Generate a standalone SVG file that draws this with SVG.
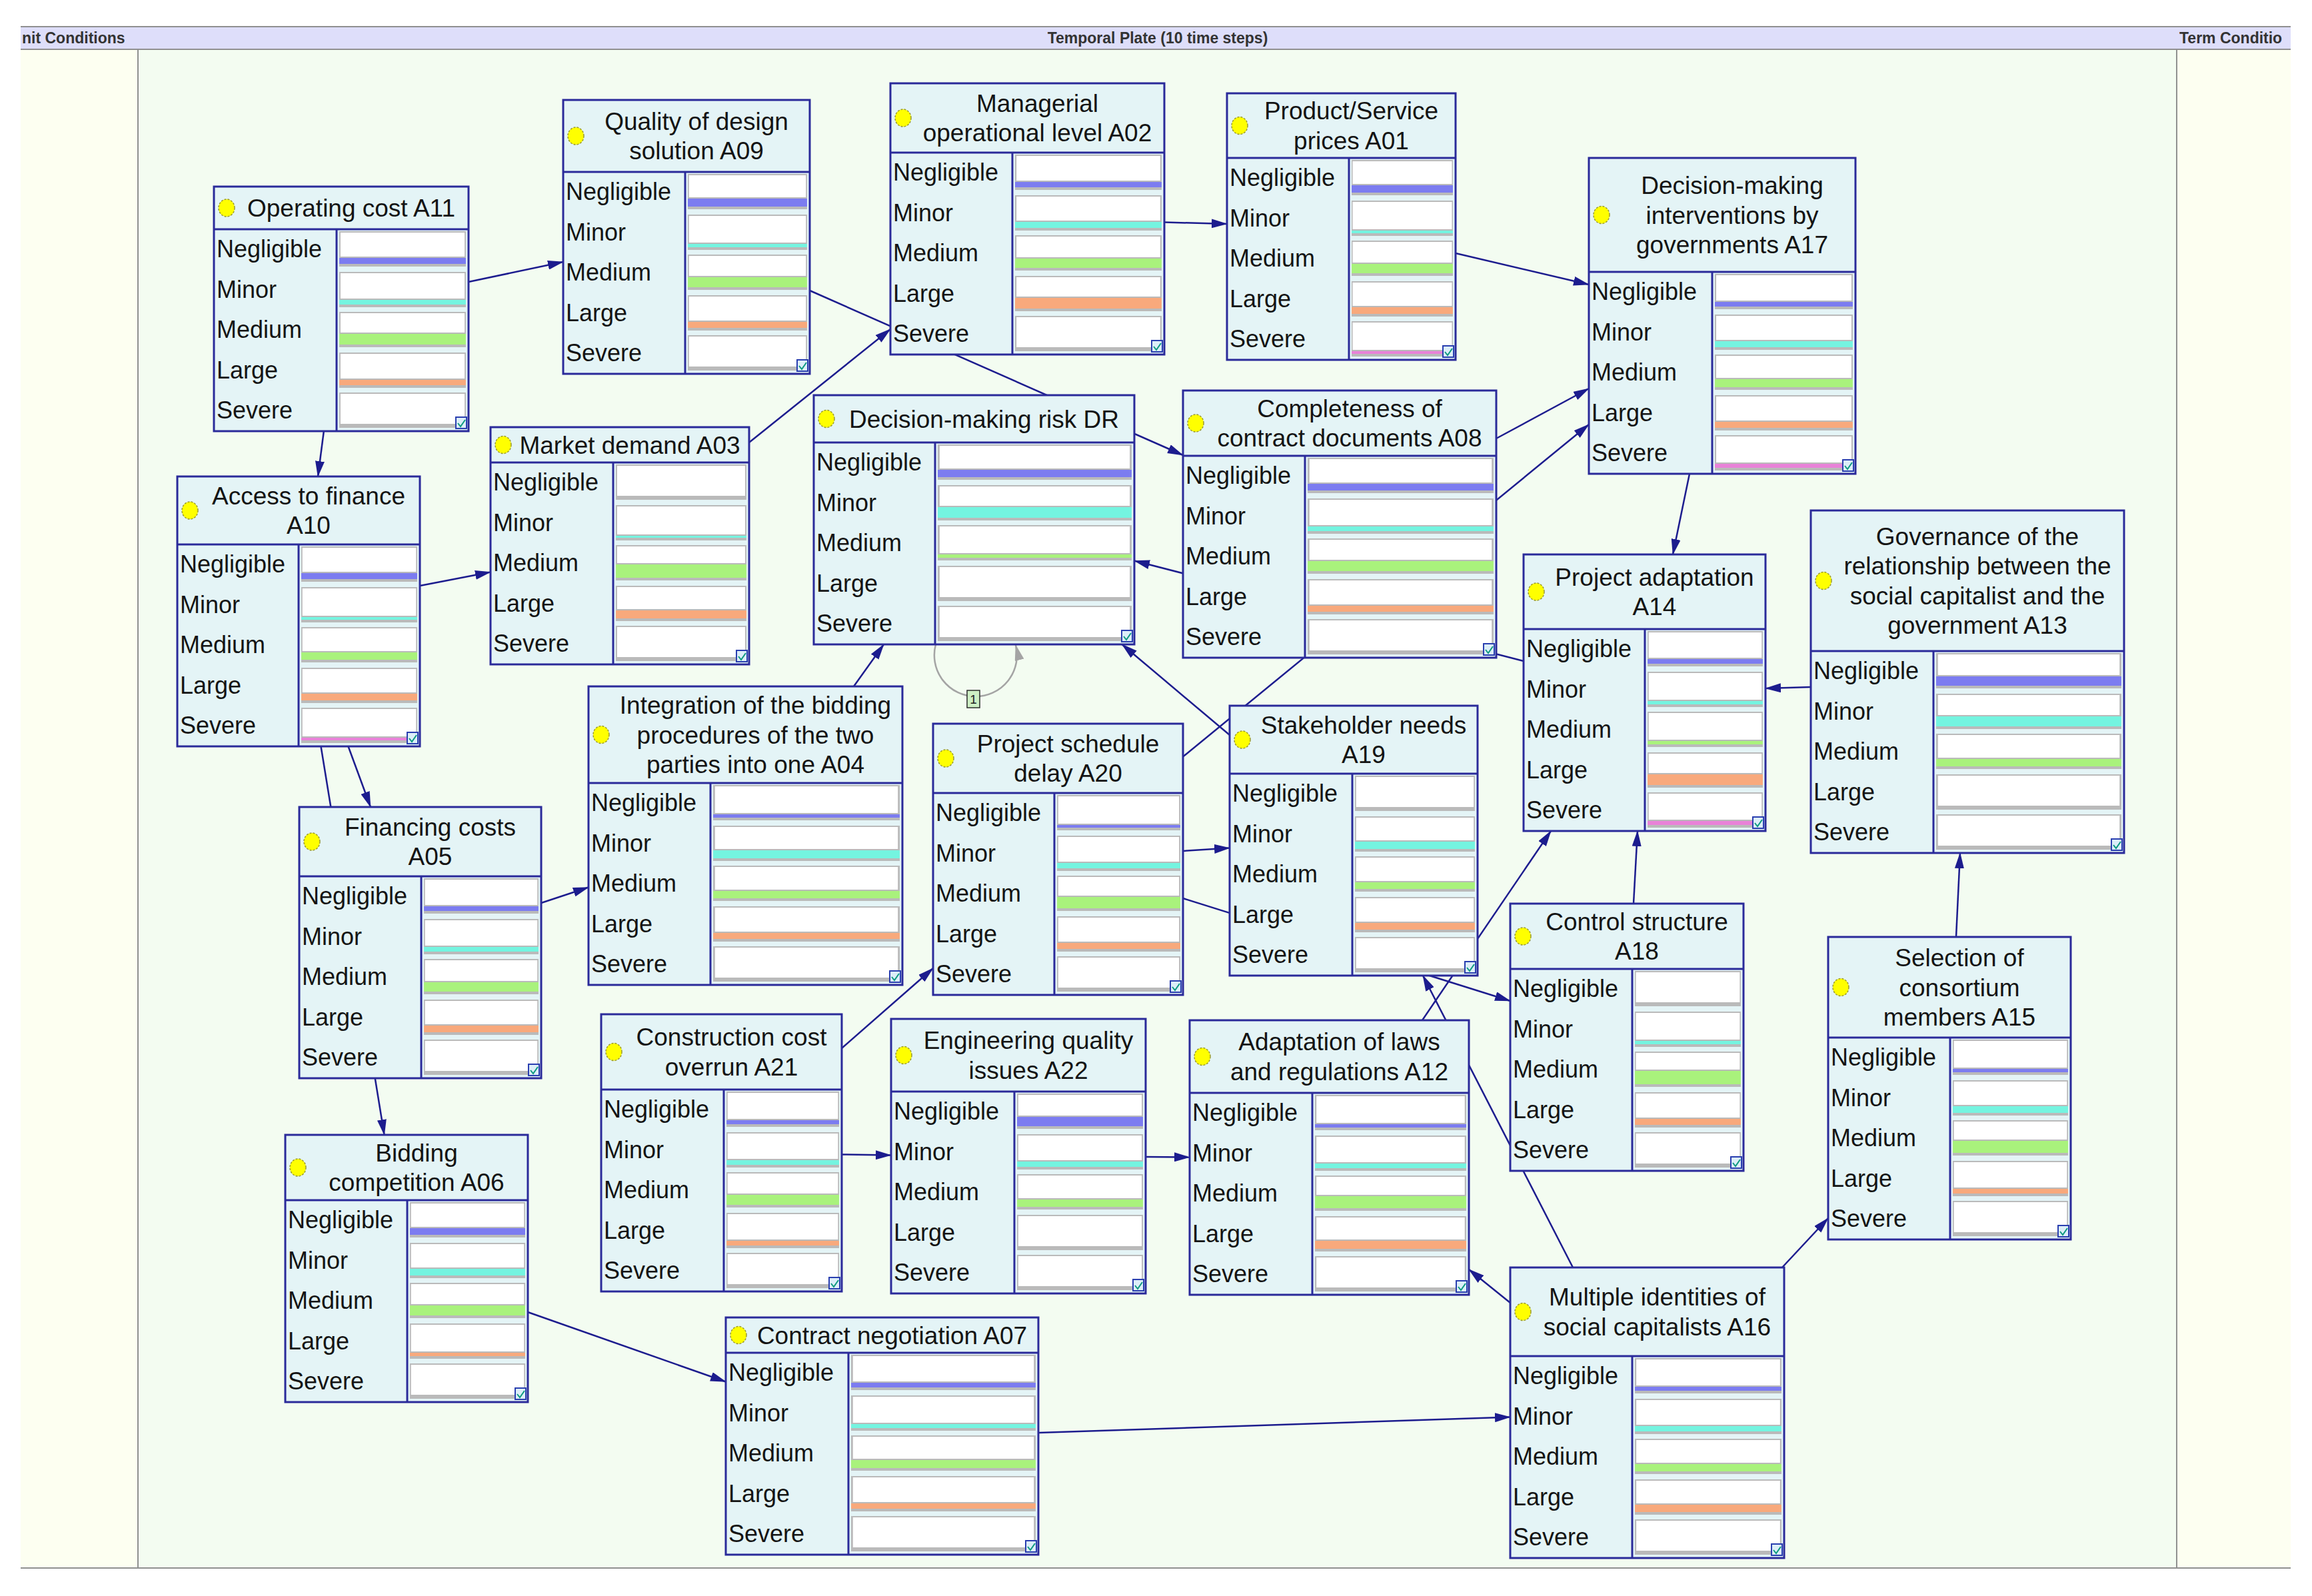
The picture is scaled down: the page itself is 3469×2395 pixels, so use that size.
<svg xmlns="http://www.w3.org/2000/svg" width="3469" height="2395" viewBox="0 0 3469 2395">
<style>
.box{fill:#e4f4f6;stroke:#2a2a9a;stroke-width:3}
.div{fill:none;stroke:#2a2a9a;stroke-width:3}
.dot{fill:#ffff00;stroke:#9a9a30;stroke-width:1.5;stroke-dasharray:3 2}
.t{font-family:"Liberation Sans",Arial,sans-serif;font-size:37px;fill:#141414;text-anchor:middle}
.lab text{font-family:"Liberation Sans",Arial,sans-serif;font-size:36px;fill:#141414}
.hd{font-family:"Liberation Sans",Arial,sans-serif;font-size:23px;font-weight:bold;fill:#333}
.fr,.g{fill:#bababa}
.wh{fill:#ffffff}
.c1{fill:#7c7cf0}.c2{fill:#74f4e0}.c3{fill:#a9f27c}.c4{fill:#f8a97c}.c5{fill:#e882d8}
.ic{fill:#dceef8;stroke:#2a3fb0;stroke-width:2}
.ck{fill:none;stroke:#0c9a80;stroke-width:2}
.e{fill:none;stroke:#1c1c8e;stroke-width:2.5;marker-end:url(#ah)}
.loop{fill:none;stroke:#a4a4a4;stroke-width:2.5;marker-end:url(#ahg)}
</style>
<defs>
<marker id="ah" viewBox="0 0 24 14" refX="23" refY="7" markerWidth="24" markerHeight="14" markerUnits="userSpaceOnUse" orient="auto"><path d="M0,0L24,7L0,14z" fill="#1c1c8e"/></marker>
<marker id="ahg" viewBox="0 0 24 14" refX="23" refY="7" markerWidth="24" markerHeight="14" markerUnits="userSpaceOnUse" orient="auto"><path d="M0,0L24,7L0,14z" fill="#a4a4a4"/></marker>
<g id="cells">
<path class="fr" d="M0,3h100v53H0zM0,64h100v53H0zM0,124h100v53H0zM0,185h100v53H0zM0,245h100v53H0z"/>
<path class="wh" d="M1,5h98v45H1zM1,66h98v45H1zM1,126h98v45H1zM1,187h98v45H1zM1,247h98v45H1z"/>
</g>
</defs>
<rect width="3469" height="2395" fill="#ffffff"/>
<g id="plate">
<rect x="31" y="74" width="176" height="2279" fill="#fdfff1"/>
<rect x="207" y="74" width="3059" height="2279" fill="#f3fcf1"/>
<rect x="3266" y="74" width="171" height="2279" fill="#fdfff1"/>
<rect x="31" y="40" width="3406" height="34" fill="#dedefa"/>
<path d="M31,40H3437M31,74H3437M207,74V2353M3266,74V2353M31,2353H3437" stroke="#909090" stroke-width="2" fill="none"/>
<text class="hd" x="33" y="65">nit Conditions</text>
<text class="hd" x="1737" y="65" text-anchor="middle">Temporal Plate (10 time steps)</text>
<text class="hd" x="3270" y="65">Term Conditio</text>
</g>
<g id="connectors">
<path class="e" d="M703,423L845,393"/>
<path class="e" d="M486,646L477,715"/>
<path class="e" d="M1215,436L1775,683"/>
<path class="e" d="M1124,664L1336,494"/>
<path class="e" d="M1747,333.5L1841,336"/>
<path class="e" d="M2184,380L2384,427"/>
<path class="e" d="M2245,658L2384,583"/>
<path class="e" d="M1775,1135.5L2384,637"/>
<path class="e" d="M2535,711L2510,832"/>
<path class="e" d="M2286,992L1702,841.5"/>
<path class="e" d="M1845,1103L1683.5,967"/>
<path class="e" d="M1281,1030L1326,967"/>
<path class="e" d="M630,879L736,858.5"/>
<path class="e" d="M522.5,1120L556,1211"/>
<path class="e" d="M481.5,1120L576.6,1703"/>
<path class="e" d="M812,1355L883,1331.5"/>
<path class="e" d="M792,1969L1089,2073.5"/>
<path class="e" d="M1558,2150L2266,2126.5"/>
<path class="e" d="M1263,1573L1400,1453"/>
<path class="e" d="M1263,1732.5L1337,1733.5"/>
<path class="e" d="M1719,1736L1785,1736.5"/>
<path class="e" d="M1775,1277L1845,1272.5"/>
<path class="e" d="M1775,1348L2266,1502"/>
<path class="e" d="M2134,1531L2327,1247"/>
<path class="e" d="M2360,1902L2135,1464"/>
<path class="e" d="M2451,1356L2457,1247"/>
<path class="e" d="M2717,1031L2649,1033"/>
<path class="e" d="M2935,1406L2941,1280"/>
<path class="e" d="M2674,1902L2743,1828"/>
<path class="e" d="M2266,1955L2204,1905"/>
<path class="loop" d="M1404,967A62,62 0 1 0 1524,968"/>
<rect x="1451" y="1036" width="19" height="26" fill="#cdeec4" stroke="#2a2a2a" stroke-width="1.5"/>
<text x="1460.5" y="1056" font-family="Liberation Sans, Arial, sans-serif" font-size="19" fill="#222" text-anchor="middle">1</text>
</g>
<g id="nodes">
<g id="A11">
<rect class="box" x="321" y="280" width="382" height="367"/>
<path class="div" d="M321,344H703M505,344V647"/>
<ellipse class="dot" cx="340" cy="312" rx="12" ry="13"/>
<text class="t" x="527" y="325">Operating cost A11</text>
<g class="lab" transform="translate(325,344)"><text y="42">Negligible</text><text y="103">Minor</text><text y="163">Medium</text><text y="224">Large</text><text y="284">Severe</text></g>
<g transform="translate(509,344) scale(1.9,1)"><use href="#cells"/>
<rect class="g" y="41" width="100" height="11"/><rect class="c1" y="43" width="100" height="9"/>
<rect class="g" y="104" width="100" height="9"/><rect class="c2" y="106" width="100" height="7"/>
<rect class="g" y="155" width="100" height="18"/><rect class="c3" y="157" width="100" height="16"/>
<rect class="g" y="224" width="100" height="10"/><rect class="c4" y="226" width="100" height="8"/>
</g>
<g transform="translate(684,626)"><rect class="ic" width="16" height="17"/><path class="ck" d="M3,9l4,5l7,-10"/></g>
</g>
<g id="A09">
<rect class="box" x="845" y="150" width="370" height="411"/>
<path class="div" d="M845,258H1215M1028,258V561"/>
<ellipse class="dot" cx="864" cy="204" rx="12" ry="13"/>
<text class="t"><tspan x="1045" y="195">Quality of design</tspan><tspan x="1045" y="239">solution A09</tspan></text>
<g class="lab" transform="translate(849,258)"><text y="42">Negligible</text><text y="103">Minor</text><text y="163">Medium</text><text y="224">Large</text><text y="284">Severe</text></g>
<g transform="translate(1032,258) scale(1.79,1)"><use href="#cells"/>
<rect class="g" y="38" width="100" height="14"/><rect class="c1" y="40" width="100" height="12"/>
<rect class="g" y="106" width="100" height="7"/><rect class="c2" y="108" width="100" height="5"/>
<rect class="g" y="156" width="100" height="17"/><rect class="c3" y="158" width="100" height="15"/>
<rect class="g" y="223" width="100" height="11"/><rect class="c4" y="225" width="100" height="9"/>
</g>
<g transform="translate(1196,540)"><rect class="ic" width="16" height="17"/><path class="ck" d="M3,9l4,5l7,-10"/></g>
</g>
<g id="A02">
<rect class="box" x="1336" y="125" width="411" height="407"/>
<path class="div" d="M1336,229H1747M1519,229V532"/>
<ellipse class="dot" cx="1355" cy="177" rx="12" ry="13"/>
<text class="t"><tspan x="1556.5" y="168">Managerial</tspan><tspan x="1556.5" y="212">operational level A02</tspan></text>
<g class="lab" transform="translate(1340,229)"><text y="42">Negligible</text><text y="103">Minor</text><text y="163">Medium</text><text y="224">Large</text><text y="284">Severe</text></g>
<g transform="translate(1523,229) scale(2.2,1)"><use href="#cells"/>
<rect class="g" y="42" width="100" height="10"/><rect class="c1" y="44" width="100" height="8"/>
<rect class="g" y="102" width="100" height="11"/><rect class="c2" y="104" width="100" height="9"/>
<rect class="g" y="157" width="100" height="16"/><rect class="c3" y="159" width="100" height="14"/>
<rect class="g" y="216" width="100" height="18"/><rect class="c4" y="218" width="100" height="16"/>
</g>
<g transform="translate(1728,511)"><rect class="ic" width="16" height="17"/><path class="ck" d="M3,9l4,5l7,-10"/></g>
</g>
<g id="A01">
<rect class="box" x="1841" y="140" width="343" height="400"/>
<path class="div" d="M1841,237H2184M2024,237V540"/>
<ellipse class="dot" cx="1860" cy="188.5" rx="12" ry="13"/>
<text class="t"><tspan x="2027.5" y="179">Product/Service</tspan><tspan x="2027.5" y="224">prices A01</tspan></text>
<g class="lab" transform="translate(1845,237)"><text y="42">Negligible</text><text y="103">Minor</text><text y="163">Medium</text><text y="224">Large</text><text y="284">Severe</text></g>
<g transform="translate(2028,237) scale(1.52,1)"><use href="#cells"/>
<rect class="g" y="39" width="100" height="13"/><rect class="c1" y="41" width="100" height="11"/>
<rect class="g" y="107" width="100" height="6"/><rect class="c2" y="109" width="100" height="4"/>
<rect class="g" y="157" width="100" height="16"/><rect class="c3" y="159" width="100" height="14"/>
<rect class="g" y="222" width="100" height="12"/><rect class="c4" y="224" width="100" height="10"/>
<rect class="g" y="288" width="100" height="6"/><rect class="c5" y="290" width="100" height="4"/>
</g>
<g transform="translate(2165,519)"><rect class="ic" width="16" height="17"/><path class="ck" d="M3,9l4,5l7,-10"/></g>
</g>
<g id="A17">
<rect class="box" x="2384" y="237" width="400" height="474"/>
<path class="div" d="M2384,408H2784M2569,408V711"/>
<ellipse class="dot" cx="2403" cy="322.5" rx="12" ry="13"/>
<text class="t"><tspan x="2599" y="291">Decision-making</tspan><tspan x="2599" y="335.5">interventions by</tspan><tspan x="2599" y="380">governments A17</tspan></text>
<g class="lab" transform="translate(2388,408)"><text y="42">Negligible</text><text y="103">Minor</text><text y="163">Medium</text><text y="224">Large</text><text y="284">Severe</text></g>
<g transform="translate(2573,408) scale(2.07,1)"><use href="#cells"/>
<rect class="g" y="43" width="100" height="9"/><rect class="c1" y="45" width="100" height="7"/>
<rect class="g" y="102" width="100" height="11"/><rect class="c2" y="104" width="100" height="9"/>
<rect class="g" y="159" width="100" height="14"/><rect class="c3" y="161" width="100" height="12"/>
<rect class="g" y="223" width="100" height="11"/><rect class="c4" y="225" width="100" height="9"/>
<rect class="g" y="286" width="100" height="8"/><rect class="c5" y="288" width="100" height="6"/>
</g>
<g transform="translate(2765,690)"><rect class="ic" width="16" height="17"/><path class="ck" d="M3,9l4,5l7,-10"/></g>
</g>
<g id="DR">
<rect class="box" x="1221" y="593" width="481" height="374"/>
<path class="div" d="M1221,664H1702M1403,664V967"/>
<ellipse class="dot" cx="1240" cy="628.5" rx="12" ry="13"/>
<text class="t" x="1476.5" y="641.5">Decision-making risk DR</text>
<g class="lab" transform="translate(1225,664)"><text y="42">Negligible</text><text y="103">Minor</text><text y="163">Medium</text><text y="224">Large</text><text y="284">Severe</text></g>
<g transform="translate(1407,664) scale(2.91,1)"><use href="#cells"/>
<rect class="g" y="39" width="100" height="13"/><rect class="c1" y="41" width="100" height="11"/>
<rect class="g" y="95" width="100" height="18"/><rect class="c2" y="97" width="100" height="16"/>
<rect class="g" y="166" width="100" height="7"/><rect class="c3" y="168" width="100" height="5"/>
</g>
<g transform="translate(1683,946)"><rect class="ic" width="16" height="17"/><path class="ck" d="M3,9l4,5l7,-10"/></g>
</g>
<g id="A08">
<rect class="box" x="1775" y="586" width="470" height="401"/>
<path class="div" d="M1775,684H2245M1958,684V987"/>
<ellipse class="dot" cx="1794" cy="635" rx="12" ry="13"/>
<text class="t"><tspan x="2025" y="626">Completeness of</tspan><tspan x="2025" y="670">contract documents A08</tspan></text>
<g class="lab" transform="translate(1779,684)"><text y="42">Negligible</text><text y="103">Minor</text><text y="163">Medium</text><text y="224">Large</text><text y="284">Severe</text></g>
<g transform="translate(1962,684) scale(2.79,1)"><use href="#cells"/>
<rect class="g" y="40" width="100" height="12"/><rect class="c1" y="42" width="100" height="10"/>
<rect class="g" y="104" width="100" height="9"/><rect class="c2" y="106" width="100" height="7"/>
<rect class="g" y="156" width="100" height="17"/><rect class="c3" y="158" width="100" height="15"/>
<rect class="g" y="223" width="100" height="11"/><rect class="c4" y="225" width="100" height="9"/>
</g>
<g transform="translate(2226,966)"><rect class="ic" width="16" height="17"/><path class="ck" d="M3,9l4,5l7,-10"/></g>
</g>
<g id="A03">
<rect class="box" x="736" y="641" width="388" height="356"/>
<path class="div" d="M736,694H1124M920,694V997"/>
<ellipse class="dot" cx="755" cy="667.5" rx="12" ry="13"/>
<text class="t" x="945" y="680.5">Market demand A03</text>
<g class="lab" transform="translate(740,694)"><text y="42">Negligible</text><text y="103">Minor</text><text y="163">Medium</text><text y="224">Large</text><text y="284">Severe</text></g>
<g transform="translate(924,694) scale(1.96,1)"><use href="#cells"/>
<rect class="g" y="108" width="100" height="5"/><rect class="c2" y="110" width="100" height="3"/>
<rect class="g" y="151" width="100" height="22"/><rect class="c3" y="153" width="100" height="20"/>
<rect class="g" y="220" width="100" height="14"/><rect class="c4" y="222" width="100" height="12"/>
</g>
<g transform="translate(1105,976)"><rect class="ic" width="16" height="17"/><path class="ck" d="M3,9l4,5l7,-10"/></g>
</g>
<g id="A10">
<rect class="box" x="266" y="715" width="364" height="405"/>
<path class="div" d="M266,817H630M448,817V1120"/>
<ellipse class="dot" cx="285" cy="766" rx="12" ry="13"/>
<text class="t"><tspan x="463" y="757">Access to finance</tspan><tspan x="463" y="801">A10</tspan></text>
<g class="lab" transform="translate(270,817)"><text y="42">Negligible</text><text y="103">Minor</text><text y="163">Medium</text><text y="224">Large</text><text y="284">Severe</text></g>
<g transform="translate(452,817) scale(1.74,1)"><use href="#cells"/>
<rect class="g" y="41" width="100" height="11"/><rect class="c1" y="43" width="100" height="9"/>
<rect class="g" y="107" width="100" height="6"/><rect class="c2" y="109" width="100" height="4"/>
<rect class="g" y="160" width="100" height="13"/><rect class="c3" y="162" width="100" height="11"/>
<rect class="g" y="222" width="100" height="12"/><rect class="c4" y="224" width="100" height="10"/>
<rect class="g" y="288" width="100" height="6"/><rect class="c5" y="290" width="100" height="4"/>
</g>
<g transform="translate(611,1099)"><rect class="ic" width="16" height="17"/><path class="ck" d="M3,9l4,5l7,-10"/></g>
</g>
<g id="A14">
<rect class="box" x="2286" y="832" width="363" height="415"/>
<path class="div" d="M2286,944H2649M2468,944V1247"/>
<ellipse class="dot" cx="2305" cy="888" rx="12" ry="13"/>
<text class="t"><tspan x="2482.5" y="879">Project adaptation</tspan><tspan x="2482.5" y="923">A14</tspan></text>
<g class="lab" transform="translate(2290,944)"><text y="42">Negligible</text><text y="103">Minor</text><text y="163">Medium</text><text y="224">Large</text><text y="284">Severe</text></g>
<g transform="translate(2472,944) scale(1.73,1)"><use href="#cells"/>
<rect class="g" y="43" width="100" height="9"/><rect class="c1" y="45" width="100" height="7"/>
<rect class="g" y="106" width="100" height="7"/><rect class="c2" y="108" width="100" height="5"/>
<rect class="g" y="166" width="100" height="7"/><rect class="c3" y="168" width="100" height="5"/>
<rect class="g" y="216" width="100" height="18"/><rect class="c4" y="218" width="100" height="16"/>
<rect class="g" y="286" width="100" height="8"/><rect class="c5" y="288" width="100" height="6"/>
</g>
<g transform="translate(2630,1226)"><rect class="ic" width="16" height="17"/><path class="ck" d="M3,9l4,5l7,-10"/></g>
</g>
<g id="A13">
<rect class="box" x="2717" y="766" width="470" height="514"/>
<path class="div" d="M2717,977H3187M2901,977V1280"/>
<ellipse class="dot" cx="2736" cy="871.5" rx="12" ry="13"/>
<text class="t"><tspan x="2967" y="818">Governance of the</tspan><tspan x="2967" y="862">relationship between the</tspan><tspan x="2967" y="907">social capitalist and the</tspan><tspan x="2967" y="951">government A13</tspan></text>
<g class="lab" transform="translate(2721,977)"><text y="42">Negligible</text><text y="103">Minor</text><text y="163">Medium</text><text y="224">Large</text><text y="284">Severe</text></g>
<g transform="translate(2905,977) scale(2.78,1)"><use href="#cells"/>
<rect class="g" y="36" width="100" height="16"/><rect class="c1" y="38" width="100" height="14"/>
<rect class="g" y="96" width="100" height="17"/><rect class="c2" y="98" width="100" height="15"/>
<rect class="g" y="160" width="100" height="13"/><rect class="c3" y="162" width="100" height="11"/>
</g>
<g transform="translate(3168,1259)"><rect class="ic" width="16" height="17"/><path class="ck" d="M3,9l4,5l7,-10"/></g>
</g>
<g id="A04">
<rect class="box" x="883" y="1030" width="471" height="448"/>
<path class="div" d="M883,1175H1354M1066,1175V1478"/>
<ellipse class="dot" cx="902" cy="1102.5" rx="12" ry="13"/>
<text class="t"><tspan x="1133.5" y="1071">Integration of the bidding</tspan><tspan x="1133.5" y="1115.5">procedures of the two</tspan><tspan x="1133.5" y="1160">parties into one A04</tspan></text>
<g class="lab" transform="translate(887,1175)"><text y="42">Negligible</text><text y="103">Minor</text><text y="163">Medium</text><text y="224">Large</text><text y="284">Severe</text></g>
<g transform="translate(1070,1175) scale(2.8,1)"><use href="#cells"/>
<rect class="g" y="45" width="100" height="7"/><rect class="c1" y="47" width="100" height="5"/>
<rect class="g" y="99" width="100" height="14"/><rect class="c2" y="101" width="100" height="12"/>
<rect class="g" y="160" width="100" height="13"/><rect class="c3" y="162" width="100" height="11"/>
<rect class="g" y="223" width="100" height="11"/><rect class="c4" y="225" width="100" height="9"/>
</g>
<g transform="translate(1335,1457)"><rect class="ic" width="16" height="17"/><path class="ck" d="M3,9l4,5l7,-10"/></g>
</g>
<g id="A20">
<rect class="box" x="1400" y="1086" width="375" height="407"/>
<path class="div" d="M1400,1190H1775M1582,1190V1493"/>
<ellipse class="dot" cx="1419" cy="1138" rx="12" ry="13"/>
<text class="t"><tspan x="1602.5" y="1129">Project schedule</tspan><tspan x="1602.5" y="1173">delay A20</tspan></text>
<g class="lab" transform="translate(1404,1190)"><text y="42">Negligible</text><text y="103">Minor</text><text y="163">Medium</text><text y="224">Large</text><text y="284">Severe</text></g>
<g transform="translate(1586,1190) scale(1.85,1)"><use href="#cells"/>
<rect class="g" y="46" width="100" height="6"/><rect class="c1" y="48" width="100" height="4"/>
<rect class="g" y="103" width="100" height="10"/><rect class="c2" y="105" width="100" height="8"/>
<rect class="g" y="154" width="100" height="19"/><rect class="c3" y="156" width="100" height="17"/>
<rect class="g" y="223" width="100" height="11"/><rect class="c4" y="225" width="100" height="9"/>
</g>
<g transform="translate(1756,1472)"><rect class="ic" width="16" height="17"/><path class="ck" d="M3,9l4,5l7,-10"/></g>
</g>
<g id="A19">
<rect class="box" x="1845" y="1059" width="372" height="405"/>
<path class="div" d="M1845,1161H2217M2029,1161V1464"/>
<ellipse class="dot" cx="1864" cy="1110" rx="12" ry="13"/>
<text class="t"><tspan x="2046" y="1101">Stakeholder needs</tspan><tspan x="2046" y="1145">A19</tspan></text>
<g class="lab" transform="translate(1849,1161)"><text y="42">Negligible</text><text y="103">Minor</text><text y="163">Medium</text><text y="224">Large</text><text y="284">Severe</text></g>
<g transform="translate(2033,1161) scale(1.8,1)"><use href="#cells"/>
<rect class="g" y="100" width="100" height="13"/><rect class="c2" y="102" width="100" height="11"/>
<rect class="g" y="161" width="100" height="12"/><rect class="c3" y="163" width="100" height="10"/>
<rect class="g" y="222" width="100" height="12"/><rect class="c4" y="224" width="100" height="10"/>
</g>
<g transform="translate(2198,1443)"><rect class="ic" width="16" height="17"/><path class="ck" d="M3,9l4,5l7,-10"/></g>
</g>
<g id="A05">
<rect class="box" x="449" y="1211" width="363" height="407"/>
<path class="div" d="M449,1315H812M632,1315V1618"/>
<ellipse class="dot" cx="468" cy="1263" rx="12" ry="13"/>
<text class="t"><tspan x="645.5" y="1254">Financing costs</tspan><tspan x="645.5" y="1298">A05</tspan></text>
<g class="lab" transform="translate(453,1315)"><text y="42">Negligible</text><text y="103">Minor</text><text y="163">Medium</text><text y="224">Large</text><text y="284">Severe</text></g>
<g transform="translate(636,1315) scale(1.72,1)"><use href="#cells"/>
<rect class="g" y="43" width="100" height="9"/><rect class="c1" y="45" width="100" height="7"/>
<rect class="g" y="104" width="100" height="9"/><rect class="c2" y="106" width="100" height="7"/>
<rect class="g" y="157" width="100" height="16"/><rect class="c3" y="159" width="100" height="14"/>
<rect class="g" y="222" width="100" height="12"/><rect class="c4" y="224" width="100" height="10"/>
</g>
<g transform="translate(793,1597)"><rect class="ic" width="16" height="17"/><path class="ck" d="M3,9l4,5l7,-10"/></g>
</g>
<g id="A18">
<rect class="box" x="2266" y="1356" width="350" height="401"/>
<path class="div" d="M2266,1454H2616M2449,1454V1757"/>
<ellipse class="dot" cx="2285" cy="1405" rx="12" ry="13"/>
<text class="t"><tspan x="2456" y="1396">Control structure</tspan><tspan x="2456" y="1440">A18</tspan></text>
<g class="lab" transform="translate(2270,1454)"><text y="42">Negligible</text><text y="103">Minor</text><text y="163">Medium</text><text y="224">Large</text><text y="284">Severe</text></g>
<g transform="translate(2453,1454) scale(1.59,1)"><use href="#cells"/>
<rect class="g" y="106" width="100" height="7"/><rect class="c2" y="108" width="100" height="5"/>
<rect class="g" y="151" width="100" height="22"/><rect class="c3" y="153" width="100" height="20"/>
<rect class="g" y="223" width="100" height="11"/><rect class="c4" y="225" width="100" height="9"/>
</g>
<g transform="translate(2597,1736)"><rect class="ic" width="16" height="17"/><path class="ck" d="M3,9l4,5l7,-10"/></g>
</g>
<g id="A15">
<rect class="box" x="2743" y="1406" width="364" height="454"/>
<path class="div" d="M2743,1557H3107M2926,1557V1860"/>
<ellipse class="dot" cx="2762" cy="1481.5" rx="12" ry="13"/>
<text class="t"><tspan x="2940" y="1450">Selection of</tspan><tspan x="2940" y="1494.5">consortium</tspan><tspan x="2940" y="1539">members A15</tspan></text>
<g class="lab" transform="translate(2747,1557)"><text y="42">Negligible</text><text y="103">Minor</text><text y="163">Medium</text><text y="224">Large</text><text y="284">Severe</text></g>
<g transform="translate(2930,1557) scale(1.73,1)"><use href="#cells"/>
<rect class="g" y="45" width="100" height="7"/><rect class="c1" y="47" width="100" height="5"/>
<rect class="g" y="101" width="100" height="12"/><rect class="c2" y="103" width="100" height="10"/>
<rect class="g" y="153" width="100" height="20"/><rect class="c3" y="155" width="100" height="18"/>
<rect class="g" y="225" width="100" height="9"/><rect class="c4" y="227" width="100" height="7"/>
</g>
<g transform="translate(3088,1839)"><rect class="ic" width="16" height="17"/><path class="ck" d="M3,9l4,5l7,-10"/></g>
</g>
<g id="A21">
<rect class="box" x="902" y="1522" width="361" height="416"/>
<path class="div" d="M902,1635H1263M1086,1635V1938"/>
<ellipse class="dot" cx="921" cy="1578.5" rx="12" ry="13"/>
<text class="t"><tspan x="1097.5" y="1569">Construction cost</tspan><tspan x="1097.5" y="1614">overrun A21</tspan></text>
<g class="lab" transform="translate(906,1635)"><text y="42">Negligible</text><text y="103">Minor</text><text y="163">Medium</text><text y="224">Large</text><text y="284">Severe</text></g>
<g transform="translate(1090,1635) scale(1.69,1)"><use href="#cells"/>
<rect class="g" y="44" width="100" height="8"/><rect class="c1" y="46" width="100" height="6"/>
<rect class="g" y="104" width="100" height="9"/><rect class="c2" y="106" width="100" height="7"/>
<rect class="g" y="156" width="100" height="17"/><rect class="c3" y="158" width="100" height="15"/>
<rect class="g" y="225" width="100" height="9"/><rect class="c4" y="227" width="100" height="7"/>
</g>
<g transform="translate(1244,1917)"><rect class="ic" width="16" height="17"/><path class="ck" d="M3,9l4,5l7,-10"/></g>
</g>
<g id="A22">
<rect class="box" x="1337" y="1529" width="382" height="412"/>
<path class="div" d="M1337,1638H1719M1522,1638V1941"/>
<ellipse class="dot" cx="1356" cy="1583.5" rx="12" ry="13"/>
<text class="t"><tspan x="1543" y="1574">Engineering quality</tspan><tspan x="1543" y="1619">issues A22</tspan></text>
<g class="lab" transform="translate(1341,1638)"><text y="42">Negligible</text><text y="103">Minor</text><text y="163">Medium</text><text y="224">Large</text><text y="284">Severe</text></g>
<g transform="translate(1526,1638) scale(1.89,1)"><use href="#cells"/>
<rect class="g" y="36" width="100" height="16"/><rect class="c1" y="38" width="100" height="14"/>
<rect class="g" y="103" width="100" height="10"/><rect class="c2" y="105" width="100" height="8"/>
<rect class="g" y="160" width="100" height="13"/><rect class="c3" y="162" width="100" height="11"/>
</g>
<g transform="translate(1700,1920)"><rect class="ic" width="16" height="17"/><path class="ck" d="M3,9l4,5l7,-10"/></g>
</g>
<g id="A12">
<rect class="box" x="1785" y="1531" width="419" height="412"/>
<path class="div" d="M1785,1640H2204M1969,1640V1943"/>
<ellipse class="dot" cx="1804" cy="1585.5" rx="12" ry="13"/>
<text class="t"><tspan x="2009.5" y="1576">Adaptation of laws</tspan><tspan x="2009.5" y="1621">and regulations A12</tspan></text>
<g class="lab" transform="translate(1789,1640)"><text y="42">Negligible</text><text y="103">Minor</text><text y="163">Medium</text><text y="224">Large</text><text y="284">Severe</text></g>
<g transform="translate(1973,1640) scale(2.27,1)"><use href="#cells"/>
<rect class="g" y="45" width="100" height="7"/><rect class="c1" y="47" width="100" height="5"/>
<rect class="g" y="104" width="100" height="9"/><rect class="c2" y="106" width="100" height="7"/>
<rect class="g" y="153" width="100" height="20"/><rect class="c3" y="155" width="100" height="18"/>
<rect class="g" y="220" width="100" height="14"/><rect class="c4" y="222" width="100" height="12"/>
</g>
<g transform="translate(2185,1922)"><rect class="ic" width="16" height="17"/><path class="ck" d="M3,9l4,5l7,-10"/></g>
</g>
<g id="A06">
<rect class="box" x="428" y="1703" width="364" height="401"/>
<path class="div" d="M428,1801H792M611,1801V2104"/>
<ellipse class="dot" cx="447" cy="1752" rx="12" ry="13"/>
<text class="t"><tspan x="625" y="1743">Bidding</tspan><tspan x="625" y="1787">competition A06</tspan></text>
<g class="lab" transform="translate(432,1801)"><text y="42">Negligible</text><text y="103">Minor</text><text y="163">Medium</text><text y="224">Large</text><text y="284">Severe</text></g>
<g transform="translate(615,1801) scale(1.73,1)"><use href="#cells"/>
<rect class="g" y="40" width="100" height="12"/><rect class="c1" y="42" width="100" height="10"/>
<rect class="g" y="101" width="100" height="12"/><rect class="c2" y="103" width="100" height="10"/>
<rect class="g" y="156" width="100" height="17"/><rect class="c3" y="158" width="100" height="15"/>
<rect class="g" y="227" width="100" height="7"/><rect class="c4" y="229" width="100" height="5"/>
</g>
<g transform="translate(773,2083)"><rect class="ic" width="16" height="17"/><path class="ck" d="M3,9l4,5l7,-10"/></g>
</g>
<g id="A07">
<rect class="box" x="1089" y="1977" width="469" height="356"/>
<path class="div" d="M1089,2030H1558M1273,2030V2333"/>
<ellipse class="dot" cx="1108" cy="2003.5" rx="12" ry="13"/>
<text class="t" x="1338.5" y="2016.5">Contract negotiation A07</text>
<g class="lab" transform="translate(1093,2030)"><text y="42">Negligible</text><text y="103">Minor</text><text y="163">Medium</text><text y="224">Large</text><text y="284">Severe</text></g>
<g transform="translate(1277,2030) scale(2.77,1)"><use href="#cells"/>
<rect class="g" y="43" width="100" height="9"/><rect class="c1" y="45" width="100" height="7"/>
<rect class="g" y="105" width="100" height="8"/><rect class="c2" y="107" width="100" height="6"/>
<rect class="g" y="159" width="100" height="14"/><rect class="c3" y="161" width="100" height="12"/>
<rect class="g" y="224" width="100" height="10"/><rect class="c4" y="226" width="100" height="8"/>
</g>
<g transform="translate(1539,2312)"><rect class="ic" width="16" height="17"/><path class="ck" d="M3,9l4,5l7,-10"/></g>
</g>
<g id="A16">
<rect class="box" x="2266" y="1902" width="411" height="436"/>
<path class="div" d="M2266,2035H2677M2449,2035V2338"/>
<ellipse class="dot" cx="2285" cy="1968.5" rx="12" ry="13"/>
<text class="t"><tspan x="2486.5" y="1959">Multiple identities of</tspan><tspan x="2486.5" y="2004">social capitalists A16</tspan></text>
<g class="lab" transform="translate(2270,2035)"><text y="42">Negligible</text><text y="103">Minor</text><text y="163">Medium</text><text y="224">Large</text><text y="284">Severe</text></g>
<g transform="translate(2453,2035) scale(2.2,1)"><use href="#cells"/>
<rect class="g" y="44" width="100" height="8"/><rect class="c1" y="46" width="100" height="6"/>
<rect class="g" y="103" width="100" height="10"/><rect class="c2" y="105" width="100" height="8"/>
<rect class="g" y="160" width="100" height="13"/><rect class="c3" y="162" width="100" height="11"/>
<rect class="g" y="221" width="100" height="13"/><rect class="c4" y="223" width="100" height="11"/>
</g>
<g transform="translate(2658,2317)"><rect class="ic" width="16" height="17"/><path class="ck" d="M3,9l4,5l7,-10"/></g>
</g>
</g>
</svg>
